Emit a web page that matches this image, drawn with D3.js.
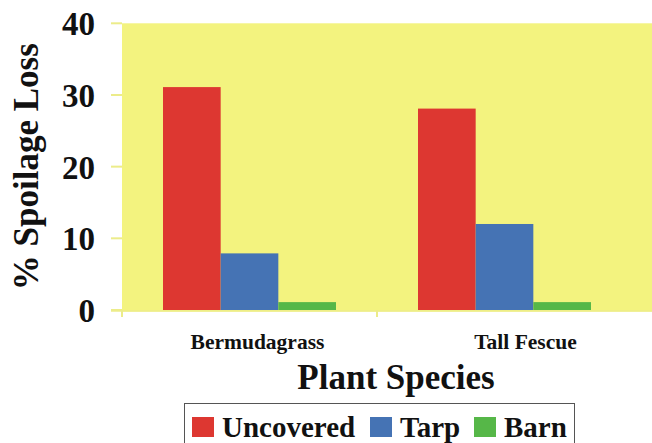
<!DOCTYPE html>
<html>
<head>
<meta charset="utf-8">
<script src="https://cdn.jsdelivr.net/npm/d3@7"></script>
<style>
  html, body { margin: 0; padding: 0; background: #ffffff; }
  svg { display: block; }
</style>
</head>
<body>
<svg id="chart" width="652" height="443"></svg>
<script>
const categories = ["Bermudagrass", "Tall Fescue"];
const seriesNames = ["Uncovered", "Tarp", "Barn"];
const uncovered = [31.1, 28.1];
const tarp = [7.9, 12.0];
const barn = [1.1, 1.1];
const yTicks = [0, 10, 20, 30, 40];
const colors = ["#DD3731", "#4573B4", "#56B748"];

const FONT = "'Liberation Serif', serif";

const seriesValues = [uncovered, tarp, barn];
const rows = categories.map((c, i) => ({
  category: c,
  values: seriesNames.map((s, j) => ({ series: s, value: seriesValues[j][i], color: colors[j] }))
}));

const svg = d3.select("#chart");
const plotLeft = 122, plotRight = 652, bandRight = 632;
const y = d3.scaleLinear().domain([0, 40]).range([310, 23.3]);
const x = d3.scaleBand().domain(categories).range([plotLeft, bandRight]).padding(0);
const xInner = d3.scaleBand().domain(seriesNames).range([41, x.bandwidth() - 41]).padding(0);

function txt(sel) {
  return sel.attr("font-family", FONT).attr("font-weight", "bold").attr("fill", "#111");
}

// plot background
svg.append("rect")
  .attr("x", plotLeft).attr("y", y(40))
  .attr("width", plotRight - plotLeft).attr("height", y(0) - y(40) + 1.5)
  .attr("fill", "#F3F37F");

// bars
const groups = svg.selectAll("g.cat").data(rows).enter().append("g")
  .attr("class", "cat")
  .attr("transform", d => `translate(${x(d.category)},0)`);
groups.selectAll("rect").data(d => d.values).enter().append("rect")
  .attr("x", d => xInner(d.series))
  .attr("y", d => y(d.value))
  .attr("width", xInner.bandwidth())
  .attr("height", d => y(0) - y(d.value))
  .attr("fill", d => d.color);

// y axis ticks
const axisColor = "#ECEC8A";
svg.selectAll("line.ytick").data(yTicks).enter().append("line")
  .attr("x1", 111).attr("x2", plotLeft)
  .attr("y1", d => y(d)).attr("y2", d => y(d))
  .attr("stroke", axisColor).attr("stroke-width", 2);
txt(svg.selectAll("text.ylab").data(yTicks).enter().append("text"))
  .attr("x", 95).attr("y", d => y(d))
  .attr("dy", "0.36em")
  .attr("text-anchor", "end")
  .attr("font-size", 33)
  .text(d => d);

// x axis line & ticks
svg.append("line")
  .attr("x1", 111).attr("x2", plotRight)
  .attr("y1", y(0) + 1).attr("y2", y(0) + 1)
  .attr("stroke", axisColor).attr("stroke-width", 1.5);
svg.selectAll("line.xtick").data(categories).enter().append("line")
  .attr("x1", d => x(d)).attr("x2", d => x(d))
  .attr("y1", y(0)).attr("y2", y(0) + 7)
  .attr("stroke", axisColor).attr("stroke-width", 2);

// category labels
const labelOffsets = [8, 21];
txt(svg.selectAll("text.xlab").data(categories).enter().append("text"))
  .attr("x", (d, i) => x(d) + x.bandwidth() / 2 + labelOffsets[i])
  .attr("y", 349)
  .attr("text-anchor", "middle")
  .attr("font-size", 21.5)
  .text(d => d);

// axis titles
txt(svg.append("text"))
  .attr("x", 396).attr("y", 389)
  .attr("text-anchor", "middle")
  .attr("font-size", 35)
  .text("Plant Species");
txt(svg.append("text"))
  .attr("transform", `translate(38,${(y(0) + y(40)) / 2}) rotate(-90)`)
  .attr("text-anchor", "middle")
  .attr("font-size", 35)
  .text("% Spoilage Loss");

// legend
const legend = svg.append("g");
legend.append("rect")
  .attr("x", 184.5).attr("y", 403.5)
  .attr("width", 390).attr("height", 50)
  .attr("fill", "#ffffff").attr("stroke", "#555").attr("stroke-width", 1);
const legendX = [192, 370, 474];
seriesNames.forEach((s, i) => {
  legend.append("rect")
    .attr("x", legendX[i]).attr("y", 417)
    .attr("width", 22).attr("height", 20)
    .attr("fill", colors[i]);
  txt(legend.append("text"))
    .attr("x", legendX[i] + 30).attr("y", 437)
    .attr("font-size", 29)
    .text(s);
});
</script>
</body>
</html>
